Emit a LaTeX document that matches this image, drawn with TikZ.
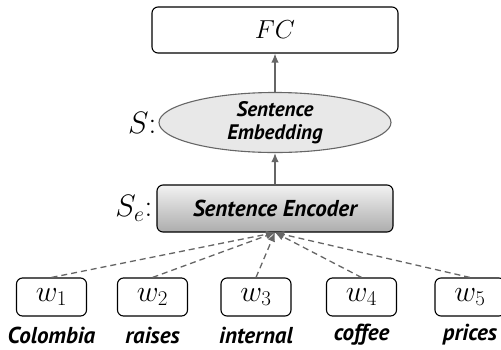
\RequirePackage{fix-cm}
\documentclass[tikz,border=0pt]{standalone}
\usepackage{fontspec}
\newfontfamily\lblfont{PT Sans}
\usetikzlibrary{shapes.geometric,arrows.meta}
\definecolor{arrgray}{HTML}{666666}
\tikzset{
  box/.style={draw=black, line width=1.1pt, rounded corners=6pt, inner sep=0pt},
  wbox/.style={box, minimum width=70pt, minimum height=38pt, font=\fontsize{30}{30}\selectfont},
  wlabel/.style={font=\lblfont\bfseries\itshape\fontsize{23}{23}\selectfont, inner sep=0pt},
  arr/.style={draw=arrgray, line width=1.3pt, -{Latex[length=9pt,width=7.5pt]}},
  darr/.style={arr, dash pattern=on 6pt off 4pt},
}
\begin{document}
\begin{tikzpicture}[x=1pt,y=-1pt]
\useasboundingbox (0,0) rectangle (501,349);
\node[box, minimum width=246pt, minimum height=46pt, font=\fontsize{26}{26}\selectfont] (fc) at (275,30) {$FC$};
\node[ellipse, draw=arrgray, line width=1.1pt, fill=gray!18, minimum width=232pt, minimum height=59pt, inner sep=0pt, align=center, font=\lblfont\bfseries\itshape\fontsize{21}{23}\selectfont] (emb) at (275,122.5) {Sentence\\Embedding};
\node[box, top color=gray!10, bottom color=gray!65, minimum width=236pt, minimum height=47pt, font=\lblfont\bfseries\itshape\fontsize{23}{23}\selectfont] (enc) at (275,208.5) {Sentence Encoder};
\node[font=\fontsize{31}{31}\selectfont, inner sep=0pt, anchor=east] (slab) at ([xshift=-2pt]emb.west) {$S$:};
\node[font=\fontsize{31}{31}\selectfont, inner sep=0pt, anchor=east] (selab) at ([xshift=-4pt]enc.west) {$S_e$:};
\foreach \i/\x/\t in {1/51.5/Colombia,2/152.5/raises,3/256/internal,4/361.5/coffee,5/470/prices}{
  \node[wbox] (w\i) at (\x,297) {$w_{\i}$};
  \node[wlabel] (l\i) at (\x,335) {\t};
}
\draw[arr] (emb.north) -- (fc.south);
\draw[arr] (enc.north) -- (emb.south);
\foreach \i in {1,...,5}{
  \draw[darr] (w\i.north) -- (enc.south);
}
\end{tikzpicture}
\end{document}
